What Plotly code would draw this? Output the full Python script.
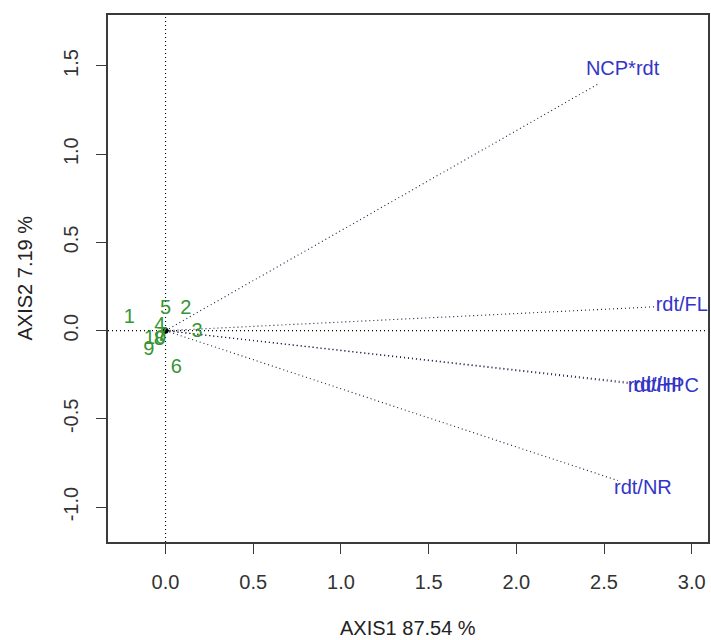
import plotly.graph_objects as go

# Variable arrows (tips)
var_names = ["NCP*rdt", "rdt/FL", "rdt/HI", "rdt/HPC", "rdt/NR"]
var_x = [2.47, 2.79, 2.66, 2.69, 2.58]
var_y = [1.40, 0.135, -0.295, -0.305, -0.85]

# Individuals (numbers 1..10)
ind_labels = ["1", "2", "3", "4", "5", "6", "7", "8", "9", "10"]
ind_x = [-0.207, 0.115, 0.18, -0.032, 0.0, 0.062, -0.02, -0.036, -0.096, -0.06]
ind_y = [0.070, 0.121, -0.006, 0.026, 0.121, -0.214, -0.03, -0.053, -0.112, -0.045]

x_ticks = [0.0, 0.5, 1.0, 1.5, 2.0, 2.5, 3.0]
y_ticks = [-1.0, -0.5, 0.0, 0.5, 1.0, 1.5]
x_title = "AXIS1 87.54 %"
y_title = "AXIS2 7.19 %"

LABEL_SCALE = 1.055
FONT = "Liberation Sans, Arial, sans-serif"
BLUE = "#3434C8"
GREEN = "#359535"
DOT = "1px,3px"

X_RANGE = [-0.328, 3.093]
Y_RANGE = [-1.198, 1.789]

fig = go.Figure()

# reference lines through origin
fig.add_trace(go.Scatter(x=X_RANGE, y=[0, 0], mode="lines",
                         line=dict(color="black", width=1.1, dash=DOT),
                         hoverinfo="skip", showlegend=False))
fig.add_trace(go.Scatter(x=[0, 0], y=Y_RANGE, mode="lines",
                         line=dict(color="black", width=1.1, dash=DOT),
                         hoverinfo="skip", showlegend=False))

# arrows
for vx, vy in zip(var_x, var_y):
    fig.add_trace(go.Scatter(x=[0, vx], y=[0, vy], mode="lines",
                             line=dict(color="#1a1a40", width=1.1, dash=DOT),
                             hoverinfo="skip", showlegend=False))

# variable labels
fig.add_trace(go.Scatter(
    x=[v * LABEL_SCALE for v in var_x],
    y=[v * LABEL_SCALE for v in var_y],
    mode="text", text=var_names, textposition="middle center",
    textfont=dict(family=FONT, size=20, color=BLUE),
    cliponaxis=True, showlegend=False))

# origin point
fig.add_trace(go.Scatter(x=[0], y=[0], mode="markers",
                         marker=dict(color="black", size=6),
                         showlegend=False))

# individuals
fig.add_trace(go.Scatter(
    x=ind_x, y=ind_y, mode="text", text=ind_labels,
    textposition="middle center",
    textfont=dict(family=FONT, size=20, color=GREEN),
    cliponaxis=True, showlegend=False))

axis_common = dict(showgrid=False, zeroline=False, showline=True, mirror=True,
                   linecolor="#3a3a3a", linewidth=1.6, ticks="outside",
                   ticklen=10, tickwidth=1.4, tickcolor="#3a3a3a",
                   tickfont=dict(family=FONT, size=20, color="#333333"))

fig.update_xaxes(range=X_RANGE, tickvals=x_ticks,
                 ticktext=[f"{v:.1f}" for v in x_ticks],
                 ticklabelstandoff=11, **axis_common)
fig.update_yaxes(range=Y_RANGE, tickvals=y_ticks,
                 ticktext=[f"{v:.1f}" for v in y_ticks],
                 tickangle=-90, ticklabelstandoff=10, **axis_common)

fig.add_annotation(text=x_title, xref="paper", yref="paper", x=0.5, y=0,
                   yanchor="middle", yshift=-86, showarrow=False,
                   font=dict(family=FONT, size=20, color="#222222"))
fig.add_annotation(text=y_title, xref="paper", yref="paper", x=0, y=0.5,
                   xanchor="center", xshift=-84, textangle=-90, showarrow=False,
                   font=dict(family=FONT, size=20, color="#222222"))

fig.update_layout(width=711, height=640,
                  margin=dict(l=108, r=1, t=15, b=98),
                  plot_bgcolor="white", paper_bgcolor="white")

# remove the default page margin so the figure fills the window exactly
fig.write_html("out.html",
               config={"displayModeBar": False},
               post_script="document.body.style.margin='0';"
                           "document.body.style.overflow='hidden';")
